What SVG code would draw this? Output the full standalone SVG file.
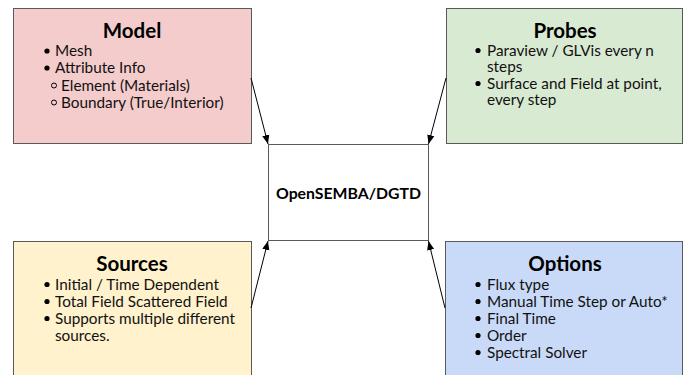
<svg xmlns="http://www.w3.org/2000/svg" width="694" height="375" viewBox="0 0 694 375">
<defs>
<marker id="ah" viewBox="0 0 10 10" refX="10" refY="5" markerWidth="9" markerHeight="9" markerUnits="userSpaceOnUse" orient="auto">
<path d="M0,1 L10,5 L0,9 Z" fill="#000"/>
</marker>
</defs>
<style>
.box{stroke:#595959;stroke-width:1}
.title{font-family:Lato,"Open Sans",sans-serif;font-weight:bold;font-size:20.5px;fill:#000;text-anchor:middle}
.body{font-family:Lato,"Open Sans",sans-serif;font-size:15.3px;fill:#111}
.main{font-family:Lato,"Open Sans",sans-serif;font-weight:bold;font-size:15.8px;fill:#000;text-anchor:middle}
.dot{fill:#000}
.ring{fill:none;stroke:#000;stroke-width:1}
.conn{stroke:#000;stroke-width:1;fill:none;marker-end:url(#ah)}
</style>
<rect width="694" height="375" fill="#fff"/>
<g id="model">
<rect class="box" x="13.5" y="8.5" width="238" height="135" fill="#f4cccc"/>
<text class="title" x="132" y="38">Model</text>
<circle class="dot" cx="47" cy="51" r="2.6"/>
<text class="body" x="55" y="56">Mesh</text>
<circle class="dot" cx="47" cy="68" r="2.6"/>
<text class="body" x="55" y="73">Attribute Info</text>
<circle class="ring" cx="54" cy="85.5" r="2.5"/>
<text class="body" x="61" y="90.5">Element (Materials)</text>
<circle class="ring" cx="54" cy="102.5" r="2.5"/>
<text class="body" x="61" y="107.5">Boundary (True/Interior)</text>
</g>
<g id="probes">
<rect class="box" x="446.5" y="8.5" width="236" height="135" fill="#d9ead3"/>
<text class="title" x="565" y="38">Probes</text>
<circle class="dot" cx="478" cy="50.5" r="2.6"/>
<text class="body" x="487" y="55.5">Paraview / GLVis every n</text>
<text class="body" x="487" y="72">steps</text>
<circle class="dot" cx="478" cy="83.5" r="2.6"/>
<text class="body" x="487" y="88.5">Surface and Field at point,</text>
<text class="body" x="487" y="105">every step</text>
</g>
<g id="center">
<rect class="box" x="268.5" y="144.5" width="160" height="96" fill="#fff"/>
<text class="main" x="348.5" y="199">OpenSEMBA/DGTD</text>
</g>
<g id="sources">
<rect class="box" x="13.5" y="241.5" width="238" height="140" fill="#fff2cc"/>
<text class="title" x="132" y="271">Sources</text>
<circle class="dot" cx="47" cy="284.5" r="2.6"/>
<text class="body" x="55" y="289.5">Initial / Time Dependent</text>
<circle class="dot" cx="47" cy="301.5" r="2.6"/>
<text class="body" x="55" y="306.5">Total Field Scattered Field</text>
<circle class="dot" cx="47" cy="318.5" r="2.6"/>
<text class="body" x="55" y="323.5">Supports multiple different</text>
<text class="body" x="55" y="340.5">sources.</text>
</g>
<g id="options">
<rect class="box" x="445.5" y="241.5" width="237" height="140" fill="#c9daf8"/>
<text class="title" x="565" y="271">Options</text>
<circle class="dot" cx="478" cy="284.5" r="2.6"/>
<text class="body" x="487" y="289.5">Flux type</text>
<circle class="dot" cx="478" cy="301.5" r="2.6"/>
<text class="body" x="487" y="306.5">Manual Time Step or Auto*</text>
<circle class="dot" cx="478" cy="318.5" r="2.6"/>
<text class="body" x="487" y="323.5">Final Time</text>
<circle class="dot" cx="478" cy="335.5" r="2.6"/>
<text class="body" x="487" y="340.5">Order</text>
<circle class="dot" cx="478" cy="352.5" r="2.6"/>
<text class="body" x="487" y="357.5">Spectral Solver</text>
</g>
<g id="connectors">
<line class="conn" x1="251" y1="78" x2="268" y2="144"/>
<line class="conn" x1="446" y1="78" x2="428.5" y2="144"/>
<line class="conn" x1="251" y1="308" x2="268" y2="241"/>
<line class="conn" x1="445" y1="308" x2="428.5" y2="241"/>
</g>
</svg>
